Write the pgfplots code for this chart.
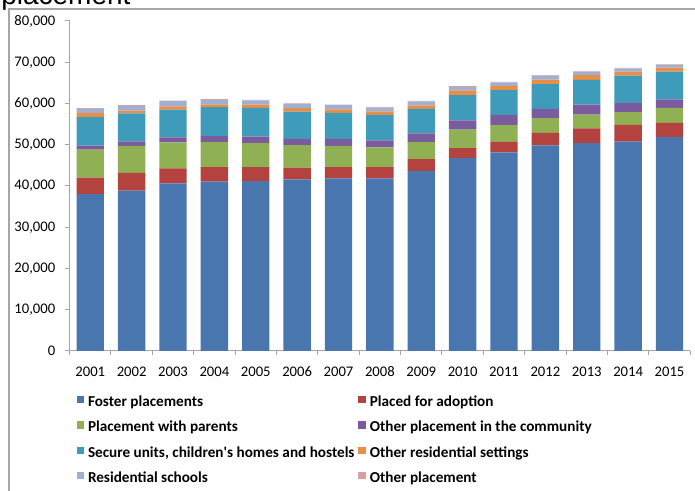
\documentclass[border=0pt]{standalone}
\usepackage{fontspec}
\setmainfont{Carlito}
\newfontfamily\arialfont{Liberation Sans}
\usepackage{pgfplots}
\usepackage{pgfplotstable}
\pgfplotsset{compat=1.18}
\definecolor{cfoster}{HTML}{4A76B0}
\definecolor{cadopt}{HTML}{B4423F}
\definecolor{cparents}{HTML}{8FB053}
\definecolor{ccomm}{HTML}{7A5C9E}
\definecolor{csecure}{HTML}{3E9BBA}
\definecolor{cothres}{HTML}{E88E47}
\definecolor{cresschool}{HTML}{9FB0D5}
\definecolor{cother}{HTML}{D9A0A0}
\definecolor{caxis}{HTML}{A6A6A6}
\pgfplotstableread{
i F A Pa C S OR RS O
0 38000 4000 6800 1000 6900 1000 1000 200
1 38900 4300 6550 1050 6800 700 1150 150
2 40650 3650 6300 1200 6700 800 1250 150
3 41050 3550 6050 1450 7000 700 1100 150
4 41200 3400 5800 1550 7000 750 1050 150
5 41600 2850 5450 1550 6600 800 1000 150
6 41850 2700 5200 1600 6350 900 1000 150
7 41850 2700 4800 1700 6200 850 950 150
8 43650 2850 4150 2100 5950 850 950 150
9 46750 2450 4450 2250 6150 1150 850 150
10 48150 2550 4050 2500 6000 1050 800 150
11 49850 3000 3600 2250 6000 1100 950 150
12 50400 3550 3350 2450 6000 1150 750 150
13 50750 4050 3100 2250 6600 950 800 150
14 51900 3400 3650 2050 6700 1000 650 150
}\datatable
\begin{document}
\begin{tikzpicture}
\useasboundingbox (0pt,0pt) rectangle (521.25pt,368.25pt);
\clip (0pt,0pt) rectangle (521.25pt,368.25pt);
\node[anchor=base west, inner sep=0pt, font=\arialfont\fontsize{21}{24}\selectfont] at (0.75pt,364.5pt) {placement};
\draw[color=caxis, line width=0.9pt] (6.75pt,361.5pt) rectangle (540pt,-20pt);
\begin{axis}[
  at={(52.2pt,105pt)}, anchor=south west,
  scale only axis, width=465.45pt, height=247.5pt,
  ybar stacked, bar width=20.5pt,
  xmin=-0.5, xmax=14.5, ymin=0, ymax=80000,
  axis x line*=bottom, axis y line*=left,
  axis line style={caxis, line width=0.75pt},
  xtick={0,...,14},
  xticklabels={2001,2002,2003,2004,2005,2006,2007,2008,2009,2010,2011,2012,2013,2014,2015},
  minor xtick={-0.5,0.5,...,14.5},
  ytick={0,10000,...,80000},
  scaled y ticks=false,
  tick align=outside,
  major tick length=3.75pt, minor tick length=3pt,
  major x tick style={draw=none},
  ytick style={caxis, line width=0.75pt},
  minor x tick style={caxis, line width=0.75pt},
  ticklabel style={font=\fontsize{11}{13}\selectfont},
  /pgf/number format/assume math mode=true,
  yticklabel style={/pgf/number format/1000 sep={,}, xshift=-3.5pt},
  xticklabel style={yshift=-4.5pt},
  every axis plot/.append style={draw=none},
  legend image code/.code={\fill[#1] (0pt,0pt) rectangle (5.5pt,5.5pt);},
  legend columns=2,
  legend cell align=left,
  legend style={at={(0.0114,-0.136)}, anchor=north west, draw=none, fill=none,
    inner sep=0pt, outer sep=0pt, row sep=8pt,
    font=\bfseries\fontsize{11.4}{13}\selectfont,
    nodes={inner sep=0pt, text height=8pt, text depth=3pt},
    /tikz/every odd column/.append style={column sep=3pt},
    /tikz/every even column/.append style={column sep=3pt}},
]
\addplot[fill=cfoster] table[x=i,y=F] {\datatable};
\addplot[fill=cadopt] table[x=i,y=A] {\datatable};
\addplot[fill=cparents] table[x=i,y=Pa] {\datatable};
\addplot[fill=ccomm] table[x=i,y=C] {\datatable};
\addplot[fill=csecure] table[x=i,y=S] {\datatable};
\addplot[fill=cothres] table[x=i,y=OR] {\datatable};
\addplot[fill=cresschool] table[x=i,y=RS] {\datatable};
\addplot[fill=cother] table[x=i,y=O] {\datatable};
\legend{Foster placements, Placed for adoption, Placement with parents, Other placement in the community, {Secure units, children\textquotesingle s homes and hostels}, Other residential settings, Residential schools, Other placement}
\end{axis}
\end{tikzpicture}
\end{document}
